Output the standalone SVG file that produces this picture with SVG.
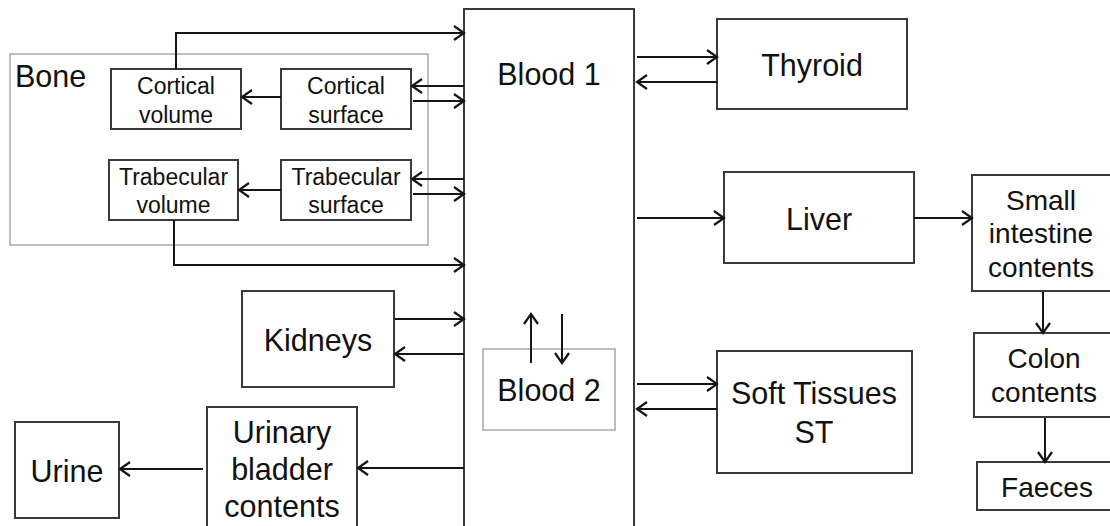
<svg xmlns="http://www.w3.org/2000/svg" width="1110" height="526" viewBox="0 0 1110 526">
  <style>
    .box { fill: #ffffff; stroke: #3a3a3a; stroke-width: 2; }
    .thin { fill: none; stroke: #9a9a9a; stroke-width: 1.3; }
    .lbl { font-family: "Liberation Sans", Arial, sans-serif; font-size: 30.5px; fill: #111; text-anchor: middle; }
    .sm { font-family: "Liberation Sans", Arial, sans-serif; font-size: 23px; fill: #111; text-anchor: middle; }
    .md { font-family: "Liberation Sans", Arial, sans-serif; font-size: 28px; fill: #111; text-anchor: middle; }
    .wire { fill: none; stroke: #151515; stroke-width: 2; marker-end: url(#chev); }
  </style>
  <defs>
    <marker id="chev" markerUnits="userSpaceOnUse" markerWidth="14" markerHeight="16" refX="12" refY="7" orient="auto" overflow="visible">
      <path d="M2,0 L12,7 L2,14" fill="none" stroke="#151515" stroke-width="2.2"/>
    </marker>
  </defs>
  <rect width="1110" height="526" fill="#ffffff"/>

  <g id="blood1">
    <rect class="box" x="464" y="9" width="170" height="540"/>
    <text class="lbl" x="549" y="85">Blood 1</text>
  </g>
  <g id="blood2">
    <rect class="thin" x="483" y="349" width="132" height="81"/>
    <text class="lbl" x="549" y="401">Blood 2</text>
  </g>

  <g id="bone">
    <rect class="thin" x="10" y="54" width="418" height="191"/>
    <text class="lbl" x="15" y="87" style="text-anchor:start">Bone</text>
  </g>
  <g id="cortical-volume">
    <rect class="box" x="111" y="69" width="130" height="60"/>
    <text class="sm" x="176" y="94">Cortical</text>
    <text class="sm" x="176" y="123">volume</text>
  </g>
  <g id="cortical-surface">
    <rect class="box" x="281" y="69" width="130" height="60"/>
    <text class="sm" x="346" y="94">Cortical</text>
    <text class="sm" x="346" y="123">surface</text>
  </g>
  <g id="trabecular-volume">
    <rect class="box" x="109" y="160" width="129" height="60"/>
    <text class="sm" x="173.5" y="185">Trabecular</text>
    <text class="sm" x="173.5" y="213">volume</text>
  </g>
  <g id="trabecular-surface">
    <rect class="box" x="281" y="160" width="130" height="60"/>
    <text class="sm" x="346" y="185">Trabecular</text>
    <text class="sm" x="346" y="213">surface</text>
  </g>

  <g id="kidneys">
    <rect class="box" x="242" y="291" width="152" height="96"/>
    <text class="lbl" x="318" y="351">Kidneys</text>
  </g>
  <g id="bladder">
    <rect class="box" x="207" y="407" width="150" height="140"/>
    <text class="lbl" x="282" y="443">Urinary</text>
    <text class="lbl" x="282" y="480">bladder</text>
    <text class="lbl" x="282" y="517">contents</text>
  </g>
  <g id="urine">
    <rect class="box" x="15" y="422" width="104" height="96"/>
    <text class="lbl" x="67" y="482">Urine</text>
  </g>

  <g id="thyroid">
    <rect class="box" x="717" y="19" width="190" height="90"/>
    <text class="lbl" x="812" y="76">Thyroid</text>
  </g>
  <g id="liver">
    <rect class="box" x="724" y="172" width="190" height="91"/>
    <text class="lbl" x="819" y="230">Liver</text>
  </g>
  <g id="soft-tissues">
    <rect class="box" x="717" y="351" width="195" height="122"/>
    <text class="lbl" x="814" y="404">Soft Tissues</text>
    <text class="lbl" x="814" y="443">ST</text>
  </g>
  <g id="small-intestine">
    <rect class="box" x="972" y="175" width="145" height="116"/>
    <text class="md" x="1041" y="210">Small</text>
    <text class="md" x="1041" y="243">intestine</text>
    <text class="md" x="1041" y="277">contents</text>
  </g>
  <g id="colon">
    <rect class="box" x="974" y="333" width="143" height="84"/>
    <text class="md" x="1044" y="368">Colon</text>
    <text class="md" x="1044" y="402">contents</text>
  </g>
  <g id="faeces">
    <rect class="box" x="977" y="462" width="140" height="48"/>
    <text class="md" x="1047" y="497">Faeces</text>
  </g>

  <g id="connectors">
    <path class="wire" d="M176,69 V33 H464"/>
    <path class="wire" d="M464,86 H412"/>
    <path class="wire" d="M413,101 H464"/>
    <path class="wire" d="M281,97 H242"/>
    <path class="wire" d="M464,179 H412"/>
    <path class="wire" d="M413,194 H464"/>
    <path class="wire" d="M281,190 H239"/>
    <path class="wire" d="M174,220 V265 H464"/>
    <path class="wire" d="M395,319 H464"/>
    <path class="wire" d="M464,354 H395"/>
    <path class="wire" d="M464,468 H358"/>
    <path class="wire" d="M203,469 H120"/>
    <path class="wire" d="M637,57 H717"/>
    <path class="wire" d="M717,82 H637"/>
    <path class="wire" d="M637,218 H724"/>
    <path class="wire" d="M914,218 H972"/>
    <path class="wire" d="M1043,292 V333"/>
    <path class="wire" d="M1045,418 V462"/>
    <path class="wire" d="M637,384 H717"/>
    <path class="wire" d="M717,409 H637"/>
    <path class="wire" d="M531,363 V314"/>
    <path class="wire" d="M562,314 V363"/>
  </g>
</svg>
